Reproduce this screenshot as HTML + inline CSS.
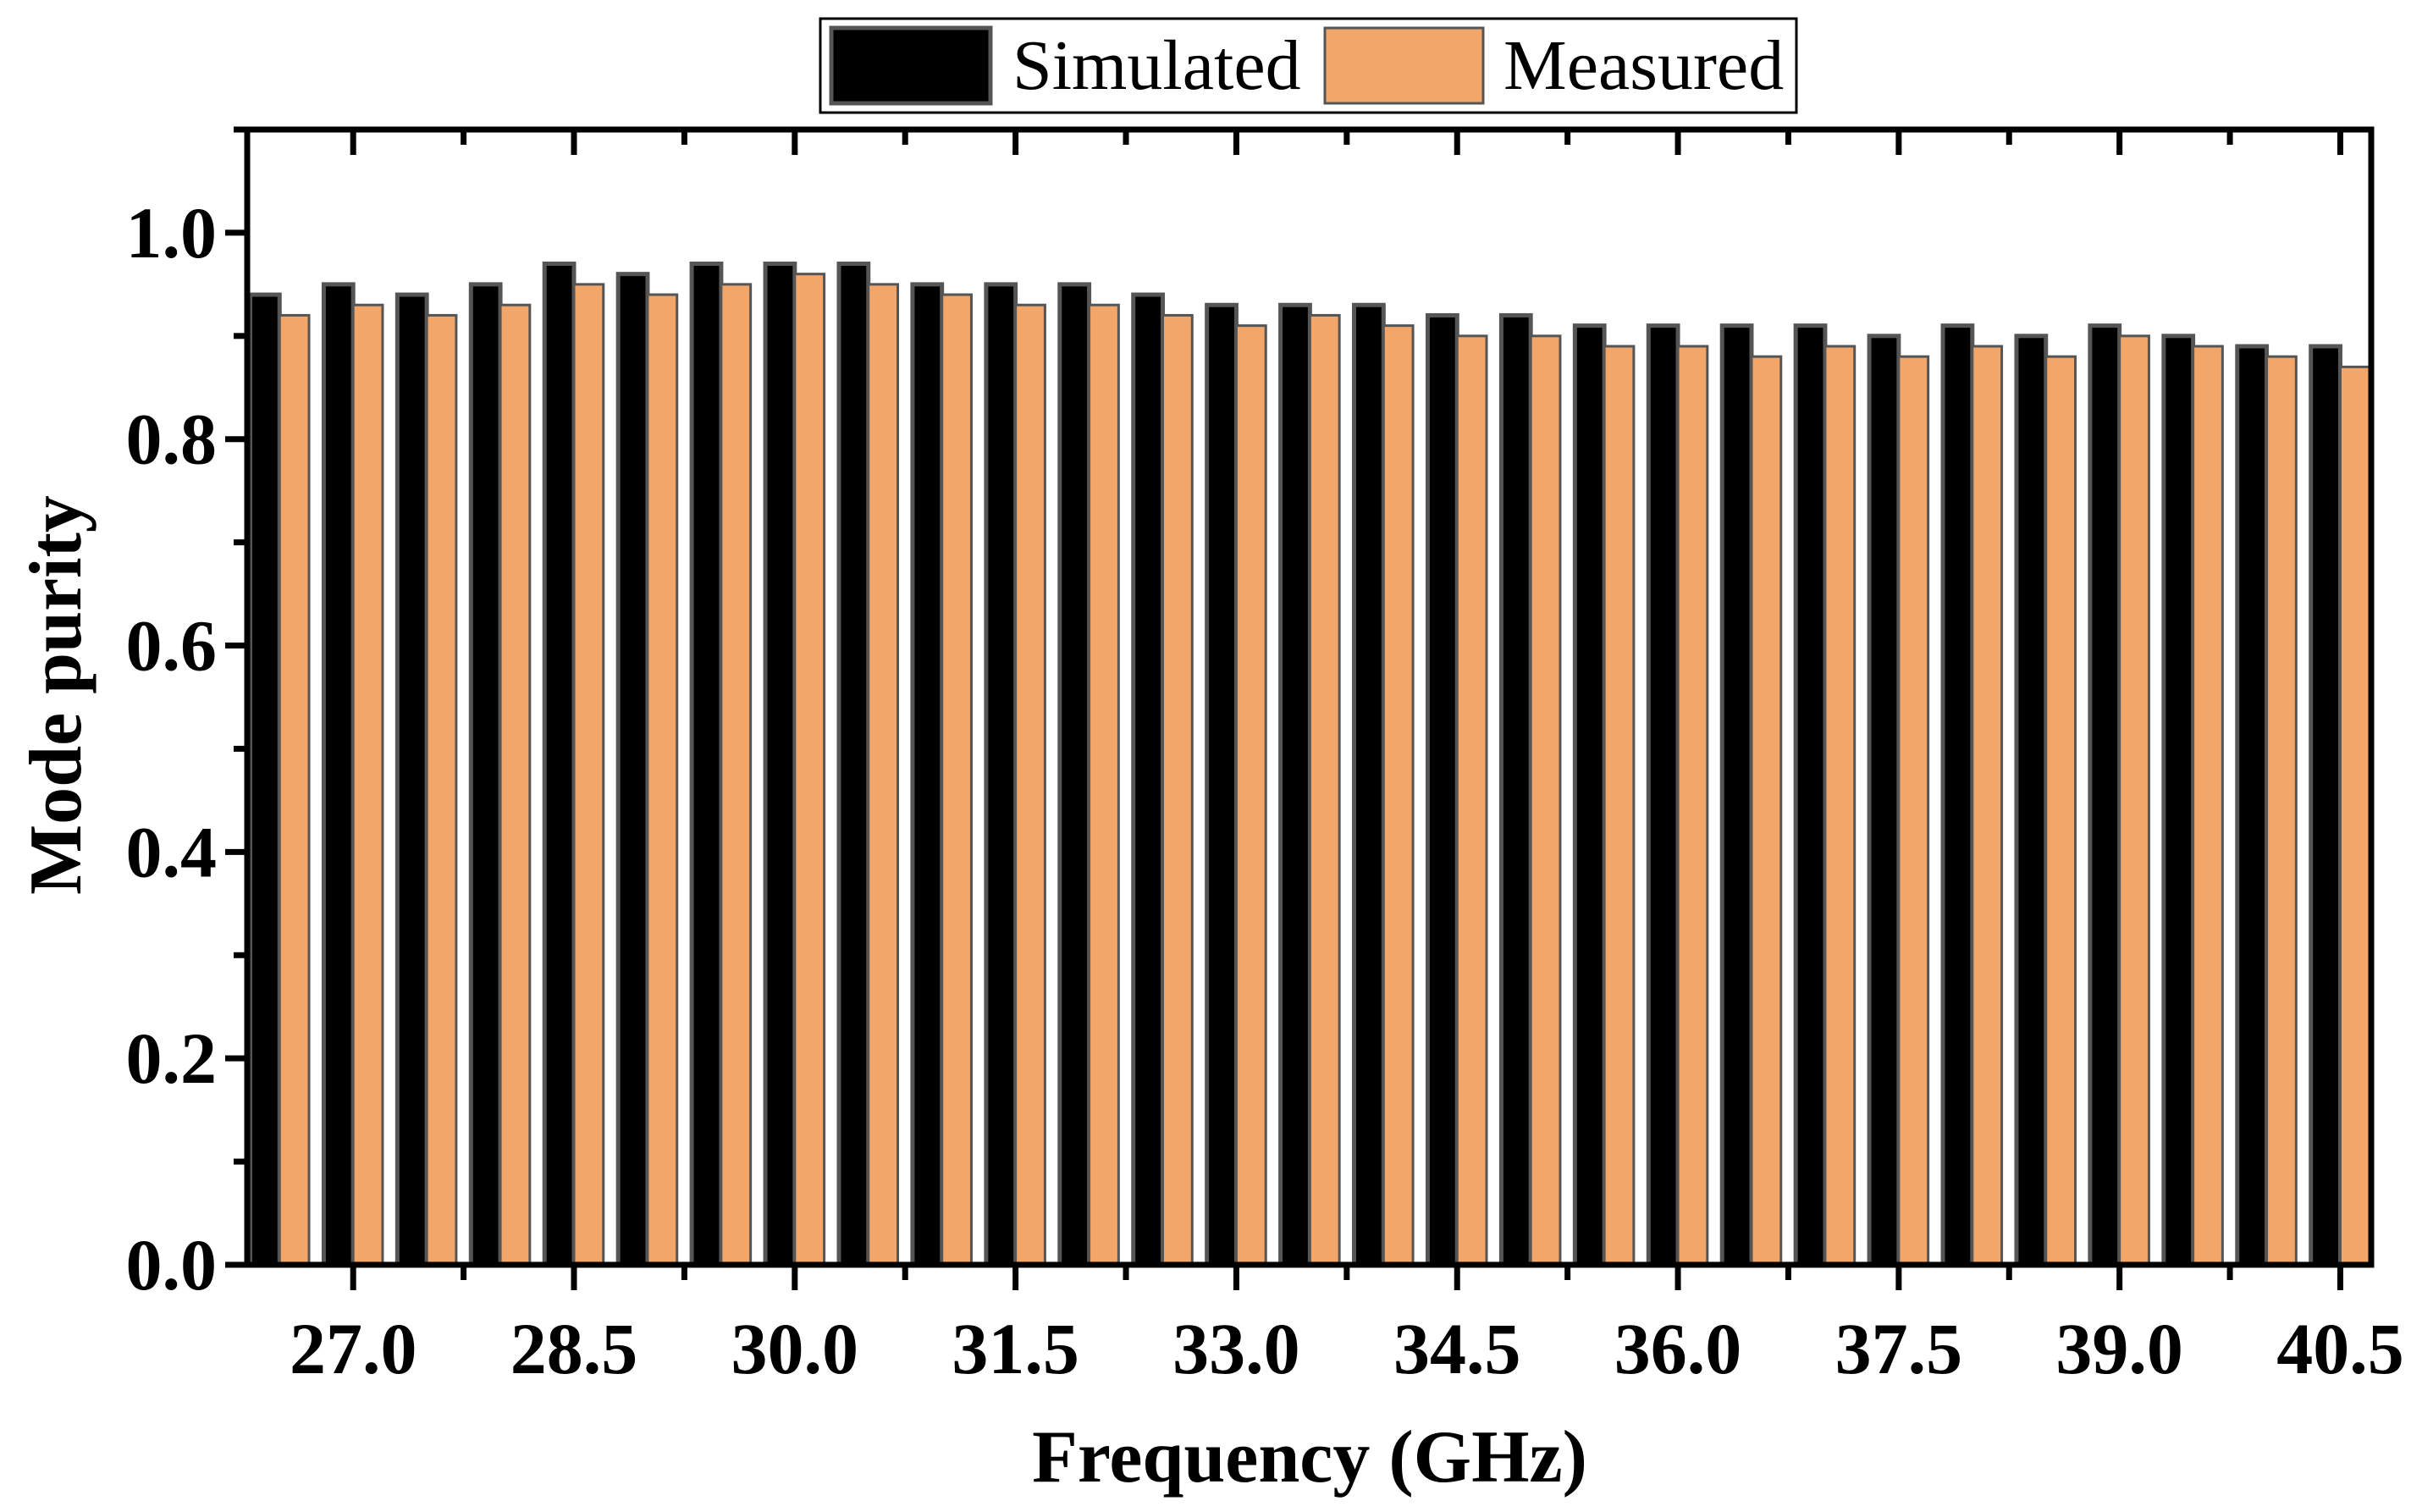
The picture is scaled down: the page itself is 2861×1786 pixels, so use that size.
<!DOCTYPE html>
<html><head><meta charset="utf-8"><style>
body{margin:0;background:#fff}
svg{display:block}
</style></head><body>
<svg id="chart" width="2861" height="1786" viewBox="0 0 2861 1786" xmlns="http://www.w3.org/2000/svg" font-family="'Liberation Serif', serif">
<g id="bars"></g>
<g id="axes"></g>
<g>
<rect x="969" y="22" width="1153" height="111" fill="#fff" stroke="#000" stroke-width="3"/>
<rect x="982" y="33" width="188" height="89" fill="#000" stroke="#555" stroke-width="5"/>
<text x="1196" y="105" font-size="84">Simulated</text>
<rect x="1565" y="33" width="187" height="89" fill="#F3A66A" stroke="#555" stroke-width="3"/>
<text x="1776" y="105" font-size="84">Measured</text>
</g>
<text x="1547" y="1750" font-size="88" font-weight="bold" text-anchor="middle">Frequency (GHz)</text>
<text transform="translate(95,821) rotate(-90)" font-size="88" font-weight="bold" text-anchor="middle">Mode purity</text>
</svg>
<script>
const freqs=[26.5,27,27.5,28,28.5,29,29.5,30,30.5,31,31.5,32,32.5,33,33.5,34,34.5,35,35.5,36,36.5,37,37.5,38,38.5,39,39.5,40,40.5];
const simulated=[.94,.95,.94,.95,.97,.96,.97,.97,.97,.95,.95,.95,.94,.93,.93,.93,.92,.92,.91,.91,.91,.91,.90,.91,.90,.91,.90,.89,.89];
const measured=[.92,.93,.92,.93,.95,.94,.95,.96,.95,.94,.93,.93,.92,.91,.92,.91,.90,.90,.89,.89,.88,.89,.88,.89,.88,.90,.89,.88,.87];
const xTicks=[27.0,28.5,30.0,31.5,33.0,34.5,36.0,37.5,39.0,40.5];
const yTicks=[0.0,0.2,0.4,0.6,0.8,1.0];
const L=292,R=2801,T=153,B=1494;
const X0=26.28,X1=40.71,Y0=0,Y1=1.1;
function xs(v){return L+(v-X0)/(X1-X0)*(R-L);}
function ys(v){return B-(v-Y0)/(Y1-Y0)*(B-T);}
const NS='http://www.w3.org/2000/svg';
function mk(t,a,p){const e=document.createElementNS(NS,t);for(const k in a)e.setAttribute(k,a[k]);p.appendChild(e);return e;}
const bars=document.getElementById('bars');
const bw=0.2;
freqs.forEach((f,i)=>{
  const x1=xs(f-bw),x2=xs(f),x3=xs(f+bw);
  const b=mk('rect',{x:x1,y:ys(simulated[i]),width:x2-x1,height:B-ys(simulated[i]),fill:'#000',stroke:'#555','stroke-width':5},bars);
  
  
  const m=mk('rect',{x:x2,y:ys(measured[i]),width:x3-x2,height:B-ys(measured[i]),fill:'#F3A66A',stroke:'#555','stroke-width':3},bars);
  
  
});
const ax=document.getElementById('axes');
const fr=mk('rect',{x:L,y:T,width:R-L,height:B-T,fill:'none',stroke:'#000','stroke-width':7},ax);


for(let v=0;v<=1.1001;v+=0.1){
  const major=Math.abs(v*5-Math.round(v*5))<1e-6;
  const len=major?26:16,y=ys(v);
  mk('line',{x1:L-len,y1:y,x2:L,y2:y,stroke:'#000','stroke-width':7},ax);
}
yTicks.forEach(v=>{
  const t=mk('text',{x:L-36,y:ys(v)+29,'font-size':86,'font-weight':'bold','text-anchor':'end'},ax);
  t.textContent=v.toFixed(1);
  
  
});
for(let v=27;v<=40.5001;v+=0.75){
  const major=Math.abs((v-27)/1.5-Math.round((v-27)/1.5))<1e-6;
  const len=major?30:18,x=xs(v);
  mk('line',{x1:x,y1:B,x2:x,y2:B+len,stroke:'#000','stroke-width':7},ax);
  mk('line',{x1:x,y1:T,x2:x,y2:T+len,stroke:'#000','stroke-width':7},ax);
}
xTicks.forEach(v=>{
  const t=mk('text',{x:xs(v),y:1622,'font-size':86,'font-weight':'bold','text-anchor':'middle'},ax);
  t.textContent=v.toFixed(1);
  
  
});
</script>
</body></html>
